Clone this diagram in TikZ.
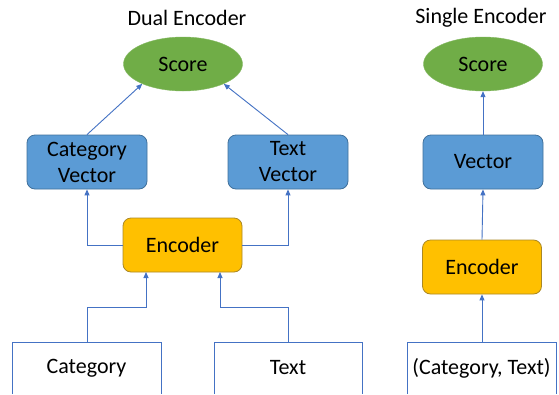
\documentclass[tikz,border=0pt]{standalone}
\usepackage{fontspec}
\setmainfont{Carlito}
\usetikzlibrary{arrows.meta,shapes.geometric}
\definecolor{lnblue}{HTML}{4472C4}
\definecolor{boxblue}{HTML}{5B9BD5}
\definecolor{boxblueb}{HTML}{41719C}
\definecolor{ygreen}{HTML}{70AD47}
\definecolor{orng}{HTML}{FFC000}
\definecolor{orngb}{HTML}{BC8C00}
\begin{document}
\begin{tikzpicture}[x=1pt,y=-1pt,
  every node/.style={font=\fontsize{22}{26}\selectfont, text=black},
  scorenode/.style={ellipse, fill=ygreen, draw=ygreen!85!white, minimum width=119pt, minimum height=54pt, inner sep=0pt},
  vecbox/.style={rectangle, rounded corners=8pt, fill=boxblue, draw=boxblueb, line width=0.8pt, minimum width=120pt, minimum height=54pt, align=center, inner sep=0pt},
  encbox/.style={rectangle, rounded corners=8pt, fill=orng, draw=orngb!70!gray, line width=0.8pt, minimum width=119pt, minimum height=54pt, inner sep=0pt},
  conn/.style={draw=lnblue, line width=0.9pt, -{Triangle[width=5pt,length=6pt]}},
  frame/.style={draw=lnblue, line width=0.9pt},
  titletext/.style={}]
\useasboundingbox (0,0) rectangle (559,394);
\fill[white] (0,0) rectangle (559,394);
% Dual encoder
\node[titletext] (t1) at (187,18) {Dual Encoder};
\node[scorenode] (s1) at (183,64) {Score};
\node[vecbox] (cv) at (87,162) {Category\\Vector};
\node[vecbox] (tv) at (288,162) {Text\\Vector};
\node[encbox] (e1) at (182.5,245) {Encoder};
\draw[frame] (12,394) |- (161,342) -- (161,394);
\draw[frame] (214,394) |- (362,342) -- (362,394);
\node (cat) at (86.5,368) {Category};
\node (txt) at (288,368) {Text};
\coordinate (cattop) at (87,342);
\coordinate (txttop) at (288,342);
\draw[conn] (cv.north) -- (s1.206);
\draw[conn] (tv.north) -- (s1.334);
\draw[conn] (e1.west) -| (cv.south);
\draw[conn] (e1.east) -| (tv.south);
\draw[conn] (cattop) |- (146,307) -- (146,272);
\draw[conn] (txttop) |- (220,307) -- (220,272);
% Single encoder
\node[titletext] (t2) at (481,18) {Single Encoder};
\node[scorenode] (s2) at (483,64) {Score};
\node[vecbox] (v2) at (483,162) {Vector};
\node[encbox] (e2) at (482,267) {Encoder};
\draw[frame] (407,394) |- (556,342) -- (556,394);
\node (ct) at (481.5,368) {(Category, Text)};
\coordinate (cttop) at (482,342);
\draw[conn] (cttop) -- (e2.south);
\draw[conn] (e2.north) -- (v2.south);
\draw[conn] (v2.north) -- (s2.south);
\end{tikzpicture}
\end{document}
